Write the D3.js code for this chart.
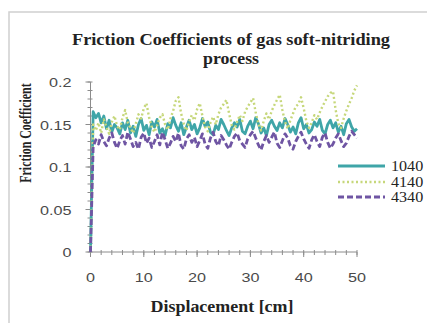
<!DOCTYPE html>
<html><head><meta charset="utf-8">
<script src="https://cdn.jsdelivr.net/npm/d3@7/dist/d3.min.js"></script>
<style>html,body{margin:0;padding:0;background:#fff;}svg{display:block;}</style>
</head><body>
<svg id="c" width="427" height="323"></svg>
<script>
const titleLines = ["Friction Coefficients of gas soft-nitriding", "process"];
const xTitle = "Displacement [cm]";
const yTitle = "Friction Coefficient";
const xTicks = [0, 10, 20, 30, 40, 50];
const yTicks = [0, 0.05, 0.1, 0.15, 0.2];
const yTickLabels = ["0", "0.05", "0.1", "0.15", "0.2"];
const seriesNames = ["1040", "4140", "4340"];
const displacement = [0,0.5,1,1.5,2,2.5,3,3.5,4,4.5,5,5.5,6,6.5,7,7.5,8,8.5,9,9.5,10,10.5,11,11.5,12,12.5,13,13.5,14,14.5,15,15.5,16,16.5,17,17.5,18,18.5,19,19.5,20,20.5,21,21.5,22,22.5,23,23.5,24,24.5,25,25.5,26,26.5,27,27.5,28,28.5,29,29.5,30,30.5,31,31.5,32,32.5,33,33.5,34,34.5,35,35.5,36,36.5,37,37.5,38,38.5,39,39.5,40,40.5,41,41.5,42,42.5,43,43.5,44,44.5,45,45.5,46,46.5,47,47.5,48,48.5,49,49.5,50];
const s1040 = [0,0.165,0.158,0.163,0.152,0.16,0.145,0.155,0.141,0.15,
  0.146,0.139,0.152,0.144,0.155,0.14,0.148,0.136,0.15,0.157,
  0.143,0.149,0.138,0.153,0.147,0.156,0.14,0.145,0.137,0.151,
  0.146,0.158,0.149,0.142,0.152,0.138,0.147,0.155,0.144,0.15,
  0.139,0.146,0.157,0.148,0.153,0.141,0.138,0.149,0.144,0.156,
  0.15,0.143,0.137,0.146,0.152,0.147,0.156,0.142,0.139,0.148,
  0.154,0.145,0.158,0.151,0.14,0.146,0.137,0.15,0.155,0.148,
  0.143,0.152,0.146,0.157,0.15,0.141,0.147,0.139,0.152,0.158,
  0.145,0.15,0.14,0.144,0.153,0.148,0.156,0.143,0.139,0.15,
  0.155,0.146,0.152,0.141,0.148,0.138,0.151,0.156,0.147,0.142,0.145];
const s4140 = [0,0.15,0.143,0.152,0.14,0.156,0.147,0.139,0.153,0.16,
  0.148,0.144,0.158,0.167,0.152,0.146,0.14,0.151,0.162,0.157,
  0.169,0.175,0.158,0.147,0.141,0.149,0.158,0.162,0.15,0.144,
  0.157,0.166,0.178,0.182,0.163,0.151,0.143,0.153,0.161,0.155,
  0.168,0.175,0.16,0.147,0.142,0.152,0.159,0.15,0.162,0.17,
  0.174,0.179,0.163,0.149,0.144,0.153,0.161,0.154,0.165,0.171,
  0.176,0.181,0.164,0.151,0.143,0.154,0.163,0.156,0.166,0.173,
  0.179,0.185,0.167,0.153,0.145,0.155,0.163,0.171,0.174,0.182,
  0.169,0.154,0.146,0.152,0.161,0.156,0.164,0.171,0.177,0.183,
  0.187,0.189,0.167,0.151,0.146,0.157,0.166,0.174,0.181,0.19,0.196];
const s4340 = [0,0.124,0.132,0.127,0.138,0.13,0.125,0.134,0.14,0.129,
  0.122,0.131,0.137,0.127,0.141,0.133,0.124,0.129,0.121,0.135,
  0.14,0.128,0.134,0.123,0.13,0.138,0.126,0.141,0.132,0.122,
  0.128,0.136,0.13,0.14,0.125,0.121,0.133,0.138,0.129,0.135,
  0.124,0.131,0.139,0.127,0.122,0.134,0.141,0.13,0.125,0.137,
  0.132,0.126,0.121,0.129,0.136,0.14,0.131,0.127,0.123,0.133,
  0.138,0.142,0.134,0.126,0.12,0.13,0.137,0.129,0.135,0.141,
  0.128,0.123,0.131,0.139,0.134,0.125,0.121,0.13,0.136,0.141,
  0.133,0.127,0.122,0.132,0.138,0.13,0.124,0.135,0.14,0.129,
  0.122,0.127,0.134,0.139,0.131,0.124,0.128,0.136,0.142,0.138,0.134];
const seriesValues = [s1040, s4140, s4340];
const colors = ["#3fa5a8", "#c6d77a", "#6f55a3"];
const dashes = [null, "2,2.5", "6,3"];
const widths = [2.8, 2.4, 2.8];

const svg = d3.select("#c");
svg.append("rect").attr("x", 9).attr("y", 12).attr("width", 440).attr("height", 330)
  .attr("fill", "#fff").attr("stroke", "#d0d0d0").attr("stroke-width", 1.5);

const x = d3.scaleLinear().domain([0, 50]).range([90.5, 357]);
const y = d3.scaleLinear().domain([0, 0.2]).range([252, 82]);

const serif = "'Liberation Serif','Times New Roman',serif";
const sans = "'Liberation Sans',Arial,sans-serif";
svg.append("text").attr("x", 231).attr("y", 45).attr("text-anchor", "middle")
  .attr("font-family", serif).attr("font-weight", "bold").attr("font-size", 16)
  .attr("textLength", 318).attr("lengthAdjust", "spacingAndGlyphs").attr("fill", "#222").text(titleLines[0]);
svg.append("text").attr("x", 231).attr("y", 64).attr("text-anchor", "middle")
  .attr("font-family", serif).attr("font-weight", "bold").attr("font-size", 16)
  .attr("textLength", 56).attr("lengthAdjust", "spacingAndGlyphs").attr("fill", "#222").text(titleLines[1]);

const axCol = "#8c8c8c";
const gx = svg.append("g").attr("transform", `translate(0,${y(0)})`);
gx.append("line").attr("x1", x(0)).attr("x2", x(50)).attr("stroke", axCol);
gx.selectAll("line.minor").data(d3.range(0, 51, 2)).enter().append("line")
  .attr("x1", d => x(d)).attr("x2", d => x(d)).attr("y1", -2).attr("y2", 3).attr("stroke", axCol);
gx.selectAll("line.major").data(xTicks).enter().append("line")
  .attr("x1", d => x(d)).attr("x2", d => x(d)).attr("y1", 0).attr("y2", 5).attr("stroke", axCol);
gx.selectAll("text").data(xTicks).enter().append("text")
  .attr("transform", d => `translate(${x(d)},30) scale(1.2,1)`).attr("text-anchor", "middle")
  .attr("font-family", sans).attr("font-size", 13.5).attr("fill", "#4a4a4a").text(d => d);

const gy = svg.append("g").attr("transform", `translate(${x(0)},0)`);
gy.append("line").attr("y1", y(0)).attr("y2", y(0.2)).attr("stroke", axCol);
gy.selectAll("line.minor").data(d3.range(0, 21, 1)).enter().append("line")
  .attr("y1", d => y(d / 100)).attr("y2", d => y(d / 100)).attr("x1", -3).attr("x2", 2).attr("stroke", axCol);
gy.selectAll("line.major").data(yTicks).enter().append("line")
  .attr("y1", d => y(d)).attr("y2", d => y(d)).attr("x1", -5).attr("x2", 0).attr("stroke", axCol);
gy.selectAll("text").data(yTicks).enter().append("text")
  .attr("transform", (d) => `translate(-19,${y(d) + 5}) scale(1.2,1)`).attr("text-anchor", "end")
  .attr("font-family", sans).attr("font-size", 13.5).attr("fill", "#4a4a4a").text((d, i) => yTickLabels[i]);

svg.append("text").attr("x", 222).attr("y", 312).attr("text-anchor", "middle")
  .attr("font-family", serif).attr("font-weight", "bold").attr("font-size", 16)
  .attr("textLength", 143).attr("lengthAdjust", "spacingAndGlyphs").attr("fill", "#222").text(xTitle);
svg.append("text").attr("transform", "translate(31,133) rotate(-90) scale(0.7,1)").attr("text-anchor", "middle")
  .attr("font-family", serif).attr("font-weight", "bold").attr("font-size", 17)
  .attr("fill", "#222").text(yTitle);

const line = d3.line().x((d, i) => x(displacement[i])).y(d => y(d));
seriesValues.forEach((vals, k) => {
  svg.append("path").datum(vals).attr("d", line).attr("fill", "none")
    .attr("stroke", colors[k]).attr("stroke-width", widths[k])
    .attr("stroke-dasharray", dashes[k]).attr("stroke-linejoin", "round");
});

const legY = [166, 182, 197];
seriesNames.forEach((n, k) => {
  svg.append("line").attr("x1", 338).attr("x2", 385).attr("y1", legY[k]).attr("y2", legY[k])
    .attr("stroke", colors[k]).attr("stroke-width", widths[k]).attr("stroke-dasharray", dashes[k]);
  svg.append("text").attr("transform", `translate(391,${legY[k] + 5}) scale(1.15,1)`)
    .attr("font-family", serif).attr("font-size", 14).attr("fill", "#222").text(n);
});
</script>
</body></html>
